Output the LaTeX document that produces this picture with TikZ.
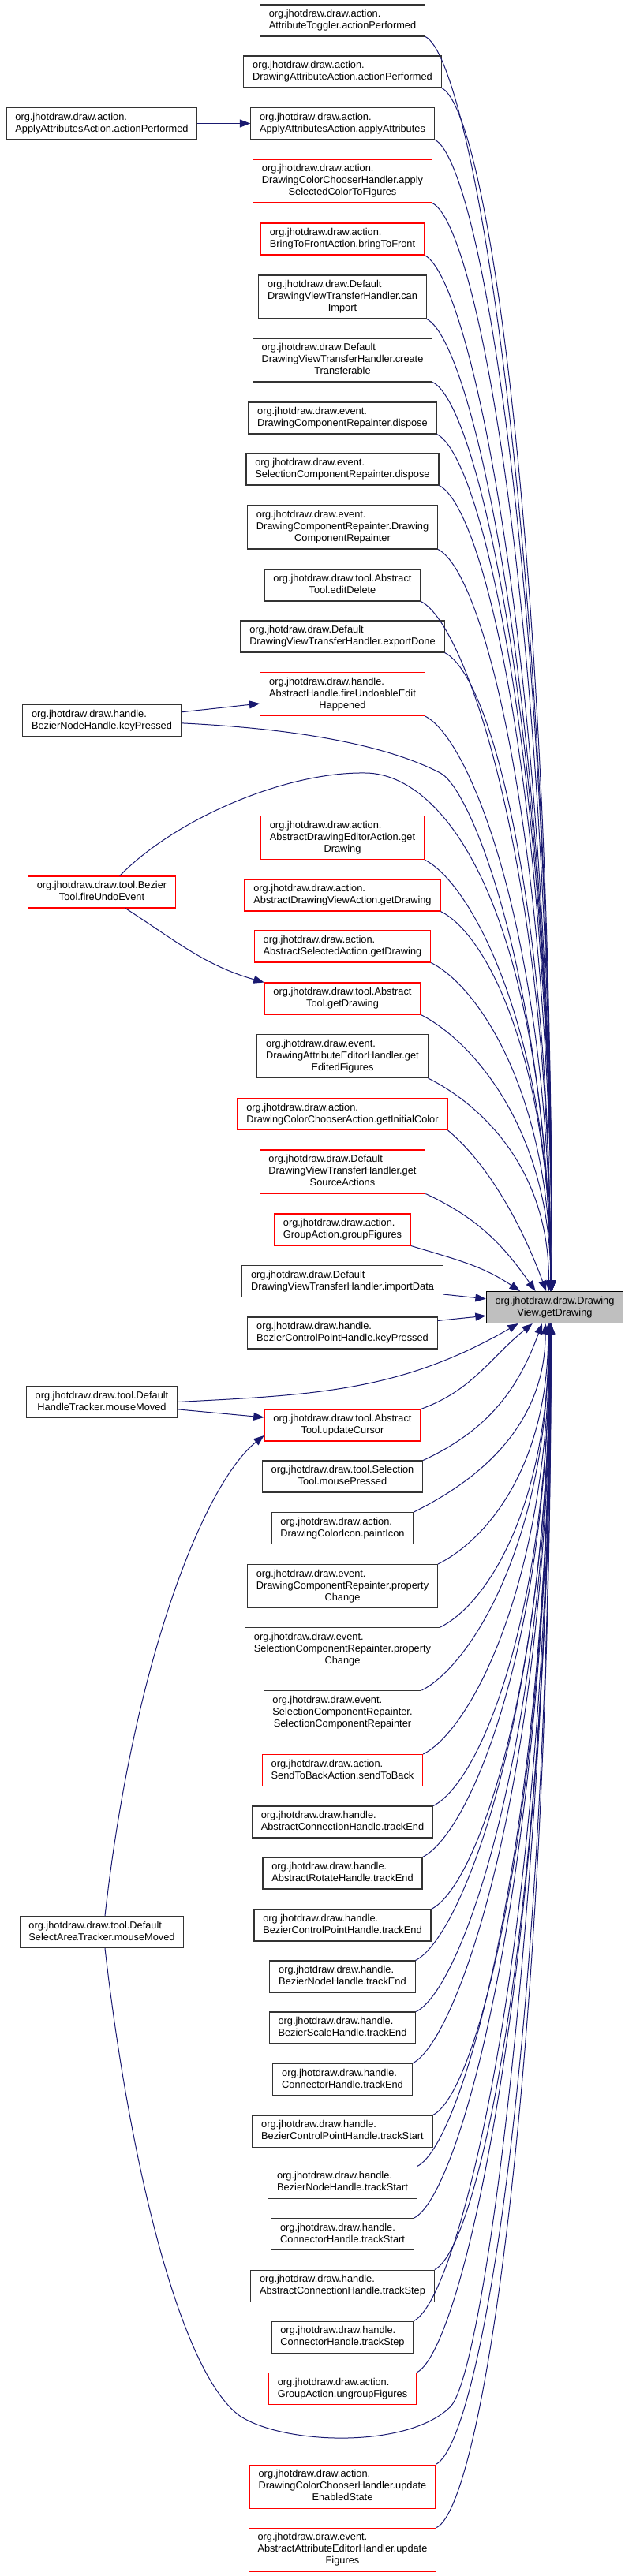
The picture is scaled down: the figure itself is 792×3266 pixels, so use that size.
\documentclass[tikz,border=0pt]{standalone}
\usepackage{fontspec}
\setmainfont{Liberation Sans}
\usetikzlibrary{arrows.meta, calc}
\definecolor{cEdge}{RGB}{25,25,112}
\definecolor{cTarget}{RGB}{191,191,191}
\newcommand{\fnl}[1]{\begin{tabular}{@{}l@{}}#1\end{tabular}}
\newcommand{\cenl}[1]{\multicolumn{1}{@{}c@{}}{#1}}
\tikzset{
	fn/.style      ={rectangle, draw=black!80, line width=0.8pt, fill=white, inner xsep=8.5pt, inner ysep=3.75pt,
	                 font={\fontsize{9.6}{11.25}\selectfont}},
	fnred/.style   ={fn, draw=red},
	fntarget/.style={fn, draw=black, fill=cTarget},
	call/.style    ={-{Triangle[length=10pt, width=7.5pt]}, cEdge, line width=0.75pt},
	% callers above and below the called method
	upcall/.style  ={to path={.. controls ($(\tikztostart)+(60,30)$) and ($(\tikztotarget)!0.6!(\tikztotarget |- \tikztostart)$) .. (\tikztotarget)}},
	downcall/.style={to path={.. controls ($(\tikztostart)+(60,-30)$) and ($(\tikztotarget)!0.6!(\tikztotarget |- \tikztostart)$) .. (\tikztotarget)}},
}
\begin{document}
\begin{tikzpicture}[x=0.75pt, y=-0.75pt]
	\useasboundingbox (0,0) rectangle (792,3266);
	% called method
	\node[fntarget] (t) at (703,1657.5) {\fnl{org.jhotdraw.draw.Drawing\\\cenl{View.getDrawing}}};
	% direct callers
	\node[fn]    (m01) at (434,26)     {\fnl{org.jhotdraw.draw.action.\\AttributeToggler.actionPerformed}};
	\node[fn]    (m02) at (434,91)     {\fnl{org.jhotdraw.draw.action.\\DrawingAttributeAction.actionPerformed}};
	\node[fn]    (m03) at (434,156.5)  {\fnl{org.jhotdraw.draw.action.\\ApplyAttributesAction.applyAttributes}};
	\node[fnred] (m04) at (434,229.5)  {\fnl{org.jhotdraw.draw.action.\\DrawingColorChooserHandler.apply\\\cenl{SelectedColorToFigures}}};
	\node[fnred] (m05) at (434,303)    {\fnl{org.jhotdraw.draw.action.\\BringToFrontAction.bringToFront}};
	\node[fn]    (m06) at (434,376.5)  {\fnl{org.jhotdraw.draw.Default\\DrawingViewTransferHandler.can\\\cenl{Import}}};
	\node[fn]    (m07) at (434,456.5)  {\fnl{org.jhotdraw.draw.Default\\DrawingViewTransferHandler.create\\\cenl{Transferable}}};
	\node[fn]    (m08) at (434,530)    {\fnl{org.jhotdraw.draw.event.\\DrawingComponentRepainter.dispose}};
	\node[fn]    (m09) at (434,595)    {\fnl{org.jhotdraw.draw.event.\\SelectionComponentRepainter.dispose}};
	\node[fn]    (m10) at (434,668.5)  {\fnl{org.jhotdraw.draw.event.\\DrawingComponentRepainter.Drawing\\\cenl{ComponentRepainter}}};
	\node[fn]    (m11) at (434,742)    {\fnl{org.jhotdraw.draw.tool.Abstract\\\cenl{Tool.editDelete}}};
	\node[fn]    (m12) at (434,807)    {\fnl{org.jhotdraw.draw.Default\\DrawingViewTransferHandler.exportDone}};
	\node[fnred] (m13) at (434,880)    {\fnl{org.jhotdraw.draw.handle.\\AbstractHandle.fireUndoableEdit\\\cenl{Happened}}};
	\node[fnred] (m14) at (434,1062)   {\fnl{org.jhotdraw.draw.action.\\AbstractDrawingEditorAction.get\\\cenl{Drawing}}};
	\node[fnred] (m15) at (434,1135)   {\fnl{org.jhotdraw.draw.action.\\AbstractDrawingViewAction.getDrawing}};
	\node[fnred] (m16) at (434,1200)   {\fnl{org.jhotdraw.draw.action.\\AbstractSelectedAction.getDrawing}};
	\node[fnred] (m17) at (434,1266)   {\fnl{org.jhotdraw.draw.tool.Abstract\\\cenl{Tool.getDrawing}}};
	\node[fn]    (m18) at (434,1339)   {\fnl{org.jhotdraw.draw.event.\\DrawingAttributeEditorHandler.get\\\cenl{EditedFigures}}};
	\node[fnred] (m19) at (434,1412.5) {\fnl{org.jhotdraw.draw.action.\\DrawingColorChooserAction.getInitialColor}};
	\node[fnred] (m20) at (434,1485.5) {\fnl{org.jhotdraw.draw.Default\\DrawingViewTransferHandler.get\\\cenl{SourceActions}}};
	\node[fnred] (m21) at (434,1559)   {\fnl{org.jhotdraw.draw.action.\\GroupAction.groupFigures}};
	\node[fn]    (m22) at (434,1624.5) {\fnl{org.jhotdraw.draw.Default\\DrawingViewTransferHandler.importData}};
	\node[fn]    (m23) at (434,1690)   {\fnl{org.jhotdraw.draw.handle.\\BezierControlPointHandle.keyPressed}};
	\node[fnred] (m24) at (434,1807)   {\fnl{org.jhotdraw.draw.tool.Abstract\\\cenl{Tool.updateCursor}}};
	\node[fn]    (m25) at (434,1872)   {\fnl{org.jhotdraw.draw.tool.Selection\\\cenl{Tool.mousePressed}}};
	\node[fn]    (m26) at (434,1937.5) {\fnl{org.jhotdraw.draw.action.\\DrawingColorIcon.paintIcon}};
	\node[fn]    (m27) at (434,2011)   {\fnl{org.jhotdraw.draw.event.\\DrawingComponentRepainter.property\\\cenl{Change}}};
	\node[fn]    (m28) at (434,2091)   {\fnl{org.jhotdraw.draw.event.\\SelectionComponentRepainter.property\\\cenl{Change}}};
	\node[fn]    (m29) at (434,2171)   {\fnl{org.jhotdraw.draw.event.\\SelectionComponentRepainter.\\\cenl{SelectionComponentRepainter}}};
	\node[fnred] (m30) at (434,2244.5) {\fnl{org.jhotdraw.draw.action.\\SendToBackAction.sendToBack}};
	\node[fn]    (m31) at (434,2310)   {\fnl{org.jhotdraw.draw.handle.\\AbstractConnectionHandle.trackEnd}};
	\node[fn]    (m32) at (434,2375)   {\fnl{org.jhotdraw.draw.handle.\\AbstractRotateHandle.trackEnd}};
	\node[fn]    (m33) at (434,2441)   {\fnl{org.jhotdraw.draw.handle.\\BezierControlPointHandle.trackEnd}};
	\node[fn]    (m34) at (434,2506)   {\fnl{org.jhotdraw.draw.handle.\\BezierNodeHandle.trackEnd}};
	\node[fn]    (m35) at (434,2571)   {\fnl{org.jhotdraw.draw.handle.\\BezierScaleHandle.trackEnd}};
	\node[fn]    (m36) at (434,2636.5) {\fnl{org.jhotdraw.draw.handle.\\ConnectorHandle.trackEnd}};
	\node[fn]    (m37) at (434,2702)   {\fnl{org.jhotdraw.draw.handle.\\BezierControlPointHandle.trackStart}};
	\node[fn]    (m38) at (434,2767)   {\fnl{org.jhotdraw.draw.handle.\\BezierNodeHandle.trackStart}};
	\node[fn]    (m39) at (434,2832.5) {\fnl{org.jhotdraw.draw.handle.\\ConnectorHandle.trackStart}};
	\node[fn]    (m40) at (434,2898)   {\fnl{org.jhotdraw.draw.handle.\\AbstractConnectionHandle.trackStep}};
	\node[fn]    (m41) at (434,2963)   {\fnl{org.jhotdraw.draw.handle.\\ConnectorHandle.trackStep}};
	\node[fnred] (m42) at (434,3028.5) {\fnl{org.jhotdraw.draw.action.\\GroupAction.ungroupFigures}};
	\node[fnred] (m43) at (434,3152.5) {\fnl{org.jhotdraw.draw.action.\\DrawingColorChooserHandler.update\\\cenl{EnabledState}}};
	\node[fnred] (m44) at (434,3232.5) {\fnl{org.jhotdraw.draw.event.\\AbstractAttributeEditorHandler.update\\\cenl{Figures}}};
	% second level callers
	\node[fn]    (l1) at (129,156.5)  {\fnl{org.jhotdraw.draw.action.\\ApplyAttributesAction.actionPerformed}};
	\node[fn]    (l2) at (129,913.5)  {\fnl{org.jhotdraw.draw.handle.\\BezierNodeHandle.keyPressed}};
	\node[fnred] (l3) at (129,1131)   {\fnl{org.jhotdraw.draw.tool.Bezier\\\cenl{Tool.fireUndoEvent}}};
	\node[fn]    (l4) at (129,1777.5) {\fnl{org.jhotdraw.draw.tool.Default\\\cenl{HandleTracker.mouseMoved}}};
	\node[fn]    (l5) at (129,2449.5) {\fnl{org.jhotdraw.draw.tool.Default\\SelectAreaTracker.mouseMoved}};

	% calls into the direct callers
	\draw[call] (l1) -- (m03);
	\draw[call] ([yshift=8pt]l2.east) -- ([yshift=-9pt]m13.west);
	\draw[call] ([xshift=22.5pt]l3.south) to[out=-33, in=164] (m17.north west);
	\draw[call] ([yshift=-7pt]l4.east) -- ([yshift=7.5pt]m24.west);
	\draw[call] ([xshift=3pt]l5.north) .. controls (170,2100) and (260,1880) .. ([yshift=-9.75pt]m24.west);
	% second level callers straight to getDrawing
	\draw[call] ([yshift=-2.5pt]l2.east) .. controls (400,925) and (500,950) .. (558,980) .. controls (600,1002) and (692,1250) .. (t.102);
	\draw[call] ([xshift=17pt]l3.north) .. controls (220,1040) and (360,978) .. (464,980) .. controls (564,982) and (690,1150) .. (t.102);
	\draw[call] (l4.east) to[out=3, in=210] (t.204);
	\draw[call] ([xshift=3pt]l5.south) .. controls (165,2750) and (230,3010) .. (304,3063) .. controls (360,3100) and (520,3105) .. (572,3050) .. controls (620,2990) and (699,2300) .. (t.255);

	% callers above
	\draw[call] (m01.south east) to[upcall] (t.100); \draw[call] (m02.south east) to[upcall] (t.100);
	\draw[call] (m03.south east) to[upcall] (t.100); \draw[call] (m04.south east) to[upcall] (t.100);
	\draw[call] (m05.south east) to[upcall] (t.100); \draw[call] (m06.south east) to[upcall] (t.100);
	\draw[call] (m07.south east) to[upcall] (t.100); \draw[call] (m08.south east) to[upcall] (t.100);
	\draw[call] (m09.south east) to[upcall] (t.100); \draw[call] (m10.south east) to[upcall] (t.100);
	\draw[call] (m11.south east) to[upcall] (t.104); \draw[call] (m12.south east) to[upcall] (t.104);
	\draw[call] (m13.south east) to[upcall] (t.104); \draw[call] (m14.south east) to[upcall] (t.104);
	\draw[call] (m15.south east) to[upcall] (t.104); \draw[call] (m16.south east) to[upcall] (t.104);
	\draw[call] (m17.south east) to[upcall] (t.104); \draw[call] (m18.south east) to[upcall] (t.110);
	\draw[call] (m19.south east) to[out=-40, in=110, looseness=0.8] (t.118);
	\draw[call] (m20.south east) to[out=-25, in=125] (t.140);
	\draw[call] (m21.south east) to[out=-17, in=146] (t.155);
	\draw[call] ([yshift=3pt]m22.south east) -- (t.173);
	\draw[call] ([yshift=-3.75pt]m23.north east) -- (t.187);
	% callers below
	\draw[call] (m24.north east) to[out=20, in=219] (t.216);
	\draw[call] (m25.north east) to[out=25, in=250] (t.232);
	\draw[call] (m26.north east) to[downcall] (t.240); \draw[call] (m27.north east) to[downcall] (t.248);
	\draw[call] (m28.north east) to[downcall] (t.250); \draw[call] (m29.north east) to[downcall] (t.250);
	\draw[call] (m30.north east) to[downcall] (t.252); \draw[call] (m31.north east) to[downcall] (t.252);
	\draw[call] (m32.north east) to[downcall] (t.252); \draw[call] (m33.north east) to[downcall] (t.254);
	\draw[call] (m34.north east) to[downcall] (t.254); \draw[call] (m35.north east) to[downcall] (t.254);
	\draw[call] (m36.north east) to[downcall] (t.255); \draw[call] (m37.north east) to[downcall] (t.255);
	\draw[call] (m38.north east) to[downcall] (t.255); \draw[call] (m39.north east) to[downcall] (t.256);
	\draw[call] (m40.north east) to[downcall] (t.256); \draw[call] (m41.north east) to[downcall] (t.256);
	\draw[call] (m42.north east) to[downcall] (t.257); \draw[call] (m43.north east) to[downcall] (t.257);
	\draw[call] (m44.north east) to[downcall] (t.257);
\end{tikzpicture}
\end{document}
